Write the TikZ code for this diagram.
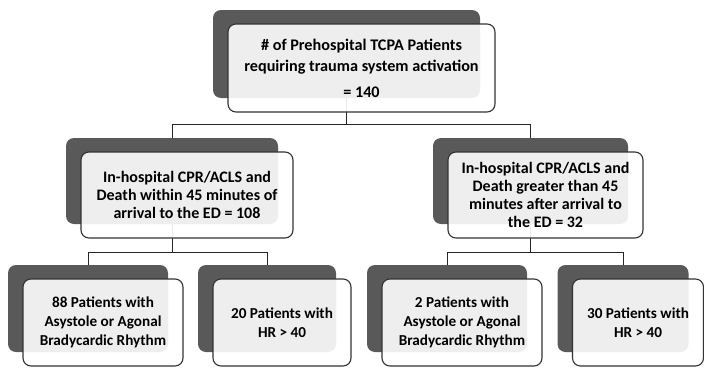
\documentclass[tikz,border=0pt]{standalone}
\usepackage{fontspec}
\setmainfont{Carlito}
\usetikzlibrary{shadows,backgrounds}

\begin{document}
\begin{tikzpicture}[
        x=1pt, y=-1pt,
        box/.style={draw=black!80, fill=white, fill opacity=.9, text opacity=1, rounded corners=8pt, line width=1.1pt, align=center, inner sep=2pt, font=\bfseries\fontsize{16}{18}\selectfont, general shadow={fill=black!65, fill opacity=1, shadow xshift=-15pt, shadow yshift=14pt}},
        low/.style={font=\bfseries\fontsize{15.2}{19}\selectfont},
        link/.style={black!85, line width=1pt},
        ]
      \useasboundingbox (0,0) rectangle (704,367);
      \node [box, minimum width=267pt, minimum height=88pt, font=\bfseries\fontsize{16.2}{21}\selectfont] (total) at (361.5,68) {\# of Prehospital TCPA Patients\\requiring trauma system activation\\[5pt]= 140};
      \node [box, minimum width=212pt, minimum height=86pt] (within) at (187,195) {In-hospital CPR/ACLS and\\Death within 45 minutes of\\arrival to the ED = 108};
      \node [box, minimum width=195pt, minimum height=86pt] (after) at (545.5,195) {In-hospital CPR/ACLS and\\Death greater than 45\\minutes after arrival to\\the ED = 32};
      \node [box, low, minimum width=160pt, minimum height=87pt] (asys-a) at (103,322.5) {88 Patients with\\Asystole or Agonal\\Bradycardic Rhythm};
      \node [box, low, minimum width=138pt, minimum height=87pt] (hr-a) at (282,322.5) {20 Patients with\\HR > 40};
      \node [box, low, minimum width=160pt, minimum height=87pt] (asys-b) at (462,322.5) {2 Patients with\\Asystole or Agonal\\Bradycardic Rhythm};
      \node [box, low, minimum width=131pt, minimum height=87pt] (hr-b) at (638,322.5) {30 Patients with\\HR > 40};

      \begin{scope}[on background layer]
      \draw[link] ([xshift=-15pt]total.center) -- ++(0,-56pt) -| ([xshift=-15pt]within.center);
      \draw[link] ([xshift=-15pt]total.center) -- ++(0,-56pt) -| ([xshift=-15pt]after.center);
      \draw[link] ([xshift=-15pt]within.center) -- ++(0,-57pt) -| ([xshift=-15pt]asys-a.center);
      \draw[link] ([xshift=-15pt]within.center) -- ++(0,-57pt) -| ([xshift=-15pt]hr-a.center);
      \draw[link] ([xshift=-15pt]after.center) -- ++(0,-57pt) -| ([xshift=-15pt]asys-b.center);
      \draw[link] ([xshift=-15pt]after.center) -- ++(0,-57pt) -| ([xshift=-15pt]hr-b.center);
      \end{scope}
    \end{tikzpicture}
\end{document}
